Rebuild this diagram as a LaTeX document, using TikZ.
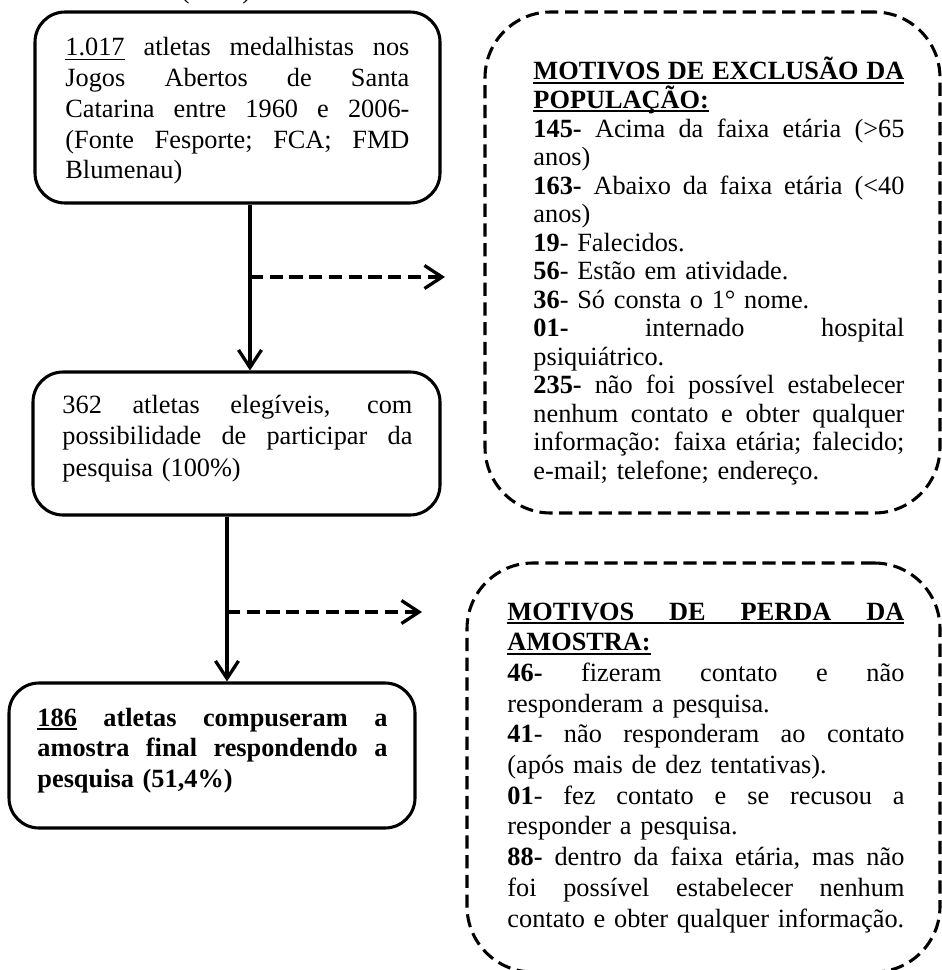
\documentclass[tikz,border=0pt]{standalone}
\usepackage{fontspec}
\setmainfont{Liberation Serif}
\usetikzlibrary{arrows.meta}

\newcommand{\px}{0.456pt}
\newlength{\largura}
\newcommand{\linha}[1]{\leavevmode\hbox to \largura{\spaceskip=\fontdimen2\font plus 1fil\relax #1}}
\newcommand{\sublinha}[2][0.5pt]{\leavevmode\setbox0=\hbox{#2}\rlap{\rule[-1.8pt]{\wd0}{#1}}\box0\relax}

\tikzset{
  caixa/.style={draw, line width=1.4pt, rounded corners=13.7pt, inner sep=0pt},
  tracejada/.style={draw, line width=1.4pt, dash pattern=on 6pt off 3pt, rounded corners=30pt, inner sep=0pt},
  texto/.style={inner sep=0pt, anchor=base west, font=\fontsize{12pt}{14pt}\selectfont\frenchspacing},
  larg/.style={text width=#1, execute at begin node={\pgfmathsetlength{\largura}{#1}}},
  seta/.style={line width=1.5pt, -{Straight Barb[length=8pt, width=10.5pt]}},
  setatracejada/.style={seta, dash pattern=on 6pt off 3pt}
}

\begin{document}
\begin{tikzpicture}[x=\px, y=-\px]

  \useasboundingbox (0,0) rectangle (941,970);

  \node[texto, anchor=base] (titulo) at (216,-1.5) {(\enspace\ldots\enspace)};

  % caixas da esquerda
  \node[caixa, minimum width=405*\px, minimum height=191*\px] (total) at (237.5,107.5) {};
  \node[caixa, minimum width=407*\px, minimum height=143*\px] (elegiveis) at (236.5,443.5) {};
  \node[caixa, minimum width=406*\px, minimum height=145*\px] (amostra) at (212,755.5) {};

  % caixas da direita
  \node[tracejada, minimum width=455*\px, minimum height=501*\px] (exclusao) at (712.5,262.5) {};
  \node[tracejada, minimum width=473*\px, minimum height=409*\px] (perda) at (703.5,767.5) {};

  \node[texto, larg=344*\px] (ttotal) at (65,56) {%
    \linha{\sublinha{1.017} atletas medalhistas nos}\\
    \linha{Jogos Abertos de Santa}\\
    \linha{Catarina entre 1960 e 2006-}\\
    \linha{(Fonte Fesporte; FCA; FMD}\\
    Blumenau)};

  \node[texto, larg=350*\px, font=\fontsize{12pt}{14.5pt}\selectfont] (telegiveis) at (62,413) {%
    \linha{362 atletas elegíveis, com}\\
    \linha{possibilidade de participar da}\\
    pesquisa (100\%)};

  \node[texto, larg=350*\px, font=\fontsize{12pt}{14.1pt}\selectfont\bfseries] (tamostra) at (37,726) {%
    \linha{\sublinha[0.8pt]{186} atletas compuseram a}\\
    \linha{amostra final respondendo a}\\
    pesquisa (51,4\%)};

  \node[texto, larg=371*\px, font=\fontsize{12pt}{13pt}\selectfont] (texclusao) at (533,80) {%
    \sublinha[0.9pt]{\linha{\textbf{MOTIVOS DE EXCLUSÃO DA}}}\\
    \sublinha[0.9pt]{\textbf{POPULAÇÃO:}}\\
    \linha{\textbf{145-} Acima da faixa etária (>65}\\
    anos)\\
    \linha{\textbf{163-} Abaixo da faixa etária (<40}\\
    anos)\\
    \textbf{19}- Falecidos.\\
    \textbf{56}- Estão em atividade.\\
    \textbf{36}- Só consta o 1° nome.\\
    \linha{\textbf{01-} internado hospital}\\
    psiquiátrico.\\
    \linha{\textbf{235-} não foi possível estabelecer}\\
    \linha{nenhum contato e obter qualquer}\\
    \linha{informação: faixa etária; falecido;}\\
    e-mail; telefone; endereço.};

  \node[texto, larg=397*\px] (tperda) at (507,620) {%
    \sublinha[0.9pt]{\linha{\textbf{MOTIVOS DE PERDA DA}}}\\
    \sublinha[0.9pt]{\textbf{AMOSTRA:}}\\
    \linha{\textbf{46-} fizeram contato e não}\\
    responderam a pesquisa.\\
    \linha{\textbf{41}- não responderam ao contato}\\
    (após mais de dez tentativas).\\
    \linha{\textbf{01}- fez contato e se recusou a}\\
    responder a pesquisa.\\
    \linha{\textbf{88-} dentro da faixa etária, mas não}\\
    \linha{foi possível estabelecer nenhum}\\
    contato e obter qualquer informação.};

  % fluxo
  \coordinate (ramo1) at (250,277);
  \coordinate (ponta1) at (445,277);
  \coordinate (ramo2) at (227,612);
  \coordinate (ponta2) at (422,612);

  \draw[seta] (total.south -| ramo1) -- (elegiveis.north -| ramo1);
  \draw[setatracejada] (ramo1) -- (ponta1);
  \draw[seta] (elegiveis.south -| ramo2) -- (amostra.north -| ramo2);
  \draw[setatracejada] (ramo2) -- (ponta2);

\end{tikzpicture}
\end{document}
